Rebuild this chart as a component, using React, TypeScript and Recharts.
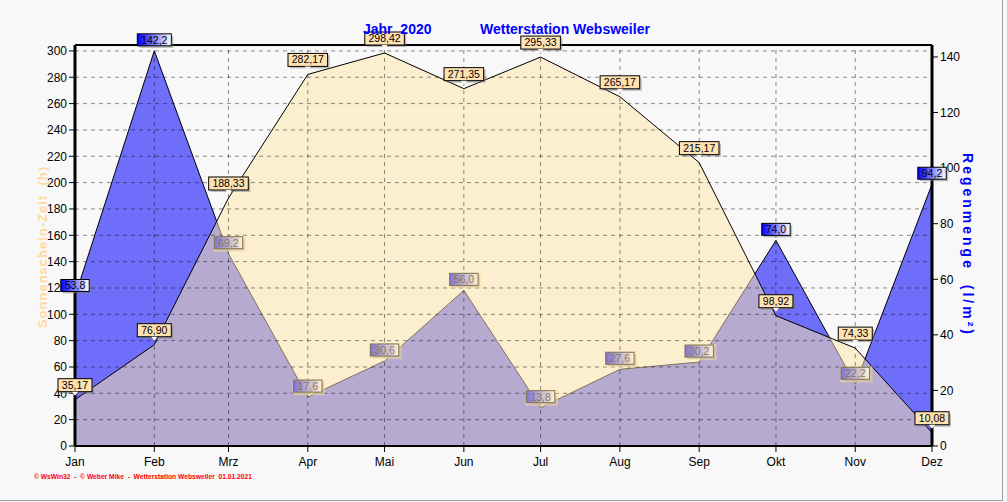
import * as React from "react";
import {
  Area,
  ComposedChart,
  LabelList,
  ReferenceLine,
  XAxis,
  YAxis,
} from "recharts";

const MONTHS = ["Jan", "Feb", "Mrz", "Apr", "Mai", "Jun", "Jul", "Aug", "Sep", "Okt", "Nov", "Dez"];
// day of year (2020) for the first of each month
const MONTH_DAY = [0, 31, 60, 91, 121, 152, 182, 213, 244, 274, 305, 335];
const SUN_HOURS = [35.17, 76.9, 188.33, 282.17, 298.42, 271.35, 295.33, 265.17, 215.17, 98.92, 74.33, 10.08];
const RAIN_MM = [53.8, 142.2, 69.2, 17.6, 30.6, 56.0, 13.8, 27.6, 30.2, 74.0, 22.2, 94.2];
const LEFT_TICKS = [0, 20, 40, 60, 80, 100, 120, 140, 160, 180, 200, 220, 240, 260, 280, 300];
const RIGHT_TICKS = [0, 20, 40, 60, 80, 100, 120, 140];

const LEFT_MAX = 304.5;
const RIGHT_MAX = 144.3;

const data = MONTHS.map((m, i) => ({ month: m, day: MONTH_DAY[i], sun: SUN_HOURS[i], rain: RAIN_MM[i] }));

// minor ticks: quarter months on x, every 5 units on y
const X_MINOR = MONTH_DAY.slice(0, -1).flatMap((d, i) => {
  const step = (MONTH_DAY[i + 1] - d) / 4;
  return [d + step, d + 2 * step, d + 3 * step];
});
const LEFT_MINOR = Array.from({ length: 61 }, (_, i) => i * 5);
const RIGHT_MINOR = Array.from({ length: 29 }, (_, i) => i * 5);

const FONT = "'Liberation Sans', Arial, sans-serif";
const SUN_FILL = "#FFE6A6";
const de = (v: number, digits: number) => v.toFixed(digits).replace(".", ",");

function SunLabel(props: any) {
  const { x, y, value } = props;
  const text = de(Number(value), 2);
  const w = text.length * 5.6 + 6;
  const top = y - 21;
  return (
    <g>
      <rect x={x - w / 2 + 2} y={top + 2} width={w} height={13} fill="#808080" opacity={0.5} />
      <rect x={x - w / 2} y={top} width={w} height={13} fill="#FFE2B2" stroke="#000" strokeWidth={1} />
      <path d={`M${x - 3},${top + 13} L${x + 3},${top + 13} L${x},${top + 17} Z`} fill="#FFF8E8" />
      <text x={x} y={top + 10} textAnchor="middle" fontSize={10.5} fontFamily={FONT} fill="#000">
        {text}
      </text>
    </g>
  );
}

function RainLabel(props: any) {
  const { x, y, value, index } = props;
  const text = de(Number(value), 1);
  const w = text.length * 5.6 + 6;
  const top = y - 17;
  // labels that sit under the translucent sunshine area look faded in the original
  const covered = RAIN_MM[index] * (LEFT_MAX / RIGHT_MAX) < SUN_HOURS[index];
  return (
    <g>
      <rect x={x - w / 2 + 2} y={top + 2} width={w} height={12} fill="#808080" opacity={0.5} />
      <rect x={x - w / 2} y={top} width={w} height={12} fill="url(#rainLbl)" stroke="#000" strokeWidth={1} />
      <text x={x} y={top + 10} textAnchor="middle" fontSize={10.5} fontFamily={FONT} fill="#000">
        {text}
      </text>
      {covered && (
        <rect x={x - w / 2 - 1} y={top - 1} width={w + 4} height={16} fill={SUN_FILL} opacity={0.5} />
      )}
    </g>
  );
}

const noTick = () => <g />;

export default function App() {
  return (
    <div
      style={{
        position: "absolute",
        left: 0,
        top: 0,
        width: 1007,
        height: 502,
        background: "#F8F8F8",
        fontFamily: FONT,
        overflow: "hidden",
      }}
    >
      <ComposedChart width={1007} height={502} data={data} margin={{ top: 45, right: 0, bottom: 0, left: 0 }}>
        <defs>
          <linearGradient id="rainLbl" x1="0" y1="0" x2="1" y2="0">
            <stop offset="0%" stopColor="#0000FF" />
            <stop offset="100%" stopColor="#FFFFFF" />
          </linearGradient>
        </defs>
        <XAxis
          xAxisId="minor"
          type="number"
          dataKey="day"
          domain={[0, 335]}
          ticks={X_MINOR}
          tick={noTick}
          tickSize={4}
          axisLine={false}
          tickLine={{ stroke: "#000" }}
          height={0}
          allowDataOverflow
        />
        <XAxis
          type="number"
          dataKey="day"
          domain={[0, 335]}
          ticks={MONTH_DAY}
          tickFormatter={(d: number) => MONTHS[MONTH_DAY.indexOf(d)]}
          tick={{ fontSize: 12, fill: "#000", fontFamily: FONT }}
          tickSize={6}
          tickMargin={5}
          axisLine={{ stroke: "#000", strokeWidth: 2 }}
          tickLine={{ stroke: "#000" }}
          height={56}
          allowDataOverflow
        />
        <YAxis
          yAxisId="leftMinor"
          domain={[0, LEFT_MAX]}
          ticks={LEFT_MINOR}
          tick={noTick}
          tickSize={3}
          axisLine={false}
          tickLine={{ stroke: "#000" }}
          width={0}
          allowDataOverflow
        />
        <YAxis
          yAxisId="left"
          domain={[0, LEFT_MAX]}
          ticks={LEFT_TICKS}
          tick={{ fontSize: 12, fill: "#000", fontFamily: FONT }}
          tickSize={6}
          tickMargin={2}
          axisLine={{ stroke: "#000", strokeWidth: 3 }}
          tickLine={{ stroke: "#000" }}
          width={75}
          allowDataOverflow
        />
        <YAxis
          yAxisId="rightMinor"
          orientation="right"
          domain={[0, RIGHT_MAX]}
          ticks={RIGHT_MINOR}
          tick={noTick}
          tickSize={3}
          axisLine={false}
          tickLine={{ stroke: "#000" }}
          width={0}
          allowDataOverflow
        />
        <YAxis
          yAxisId="right"
          orientation="right"
          domain={[0, RIGHT_MAX]}
          ticks={RIGHT_TICKS}
          tick={{ fontSize: 12, fill: "#000", fontFamily: FONT }}
          tickSize={6}
          tickMargin={2}
          axisLine={{ stroke: "#000", strokeWidth: 3 }}
          tickLine={{ stroke: "#000" }}
          width={75}
          allowDataOverflow
        />

        <Area
          yAxisId="right"
          dataKey="rain"
          type="linear"
          fill="#6E6EFA"
          fillOpacity={1}
          stroke="#000"
          strokeWidth={1}
          dot={false}
          activeDot={false}
          isAnimationActive={false}
        >
          <LabelList dataKey="rain" content={<RainLabel />} />
        </Area>
        <Area
          yAxisId="left"
          dataKey="sun"
          type="linear"
          fill={SUN_FILL}
          fillOpacity={0.5}
          stroke="#000"
          strokeWidth={1}
          dot={false}
          activeDot={false}
          isAnimationActive={false}
        >
          <LabelList dataKey="sun" content={<SunLabel />} />
        </Area>

        {MONTH_DAY.slice(1, -1).map((d) => (
          <ReferenceLine key={`v${d}`} x={d} yAxisId="left" stroke="#000" strokeOpacity={0.45} strokeDasharray="4 4" />
        ))}
        {LEFT_TICKS.slice(1).map((t) => (
          <ReferenceLine key={`h${t}`} y={t} yAxisId="left" stroke="#000" strokeOpacity={0.45} strokeDasharray="4 4" />
        ))}
        <ReferenceLine y={LEFT_MAX} yAxisId="left" stroke="#000" strokeWidth={2} />
      </ComposedChart>

      <div style={{ position: "absolute", left: 363, top: 21, fontSize: 14, fontWeight: "bold", color: "#0000FF" }}>
        Jahr&nbsp;&nbsp;2020
      </div>
      <div style={{ position: "absolute", left: 480, top: 21, fontSize: 14, fontWeight: "bold", color: "#0000FF" }}>
        Wetterstation Websweiler
      </div>

      <div
        style={{
          position: "absolute",
          left: 42,
          top: 247,
          transform: "translate(-50%, -50%) rotate(-90deg)",
          whiteSpace: "nowrap",
          fontSize: 13,
          fontWeight: "bold",
          letterSpacing: 1,
          color: "#FFD9A0",
        }}
      >
        Sonnenschein-Zeit&nbsp;&nbsp;(h)
      </div>
      <div
        style={{
          position: "absolute",
          left: 968,
          top: 245,
          transform: "translate(-50%, -50%) rotate(90deg)",
          whiteSpace: "nowrap",
          fontSize: 14,
          fontWeight: "bold",
          letterSpacing: 3,
          color: "#0000FF",
        }}
      >
        Regenmenge&nbsp;&nbsp;(l/m²)
      </div>

      <div
        style={{
          position: "absolute",
          left: 34,
          top: 473,
          fontSize: 6.7,
          fontWeight: "bold",
          color: "#FF0000",
          whiteSpace: "pre",
        }}
      >
        {"© WsWin32  -  © Weber Mike  -  Wetterstation Websweiler  01.01.2021"}
      </div>

      <div style={{ position: "absolute", left: 1002, top: 0, width: 1, height: 501, background: "#A0A0A0" }} />
      <div style={{ position: "absolute", left: 0, top: 500, width: 1003, height: 1, background: "#A0A0A0" }} />
    </div>
  );
}
